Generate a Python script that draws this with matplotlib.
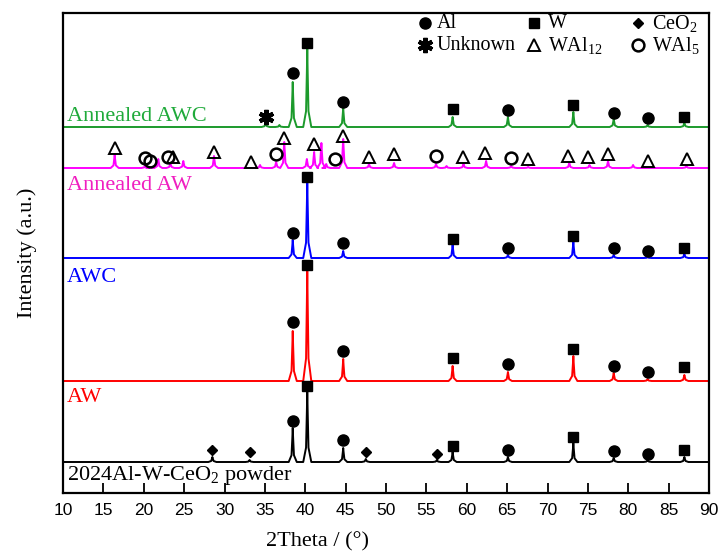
import matplotlib
matplotlib.use("Agg")
import matplotlib.pyplot as plt

# ---------------- data ----------------
# y scale: arbitrary intensity units; each pattern = baseline + peaks
powder_base = 31
powder_pos = [28.5, 33.1, 38.45, 40.25, 44.7, 47.5, 56.3, 58.25, 65.1, 73.2, 78.2, 82.4, 86.95]
powder_h = [5, 2, 34, 72, 14, 3, 2, 10, 5, 19, 4, 2, 5]

aw_base = 112
aw_pos = [38.45, 40.25, 44.7, 58.25, 65.1, 73.2, 78.2, 82.4, 86.95]
aw_h = [50, 113, 22, 15, 9, 25, 8, 2, 6]

awc_base = 235
awc_pos = [38.45, 40.25, 44.7, 58.25, 65.1, 73.2, 78.2, 82.4, 86.95]
awc_h = [18, 77, 7, 13, 3, 16, 3, 1, 4]

aaw_base = 325
aaw_pos = [16.4, 20.2, 20.8, 21.8, 23.3, 24.9, 28.7, 34.4, 36.4, 37.4, 40.2, 41.1,
           42.0, 42.6, 44.7, 47.9, 51.0, 56.2, 57.5, 59.6, 62.4, 65.5, 67.6, 72.7,
           75.2, 77.5, 80.6, 87.2]
aaw_h = [13, 3, 1, 9, 5, 7, 12, 3, 6, 26, 9, 16,
         25, 4, 29, 4, 5, 4, 2, 4, 7, 2, 1, 5,
         3, 7, 3, 2]

aawc_base = 366
aawc_pos = [35.1, 36.8, 38.45, 40.25, 44.7, 58.25, 65.1, 73.2, 78.2, 82.4, 86.95]
aawc_h = [4, 2, 45, 79, 19, 10, 10, 15, 8, 2, 4]

# phase markers: (phase, 2theta, y)
powder_marks = [("CeO2", 28.5, 43), ("CeO2", 33.1, 41), ("Al", 38.45, 72), ("W", 40.25, 107),
                ("Al", 44.7, 53), ("CeO2", 47.5, 41), ("CeO2", 56.3, 39), ("W", 58.25, 47),
                ("Al", 65.1, 43), ("W", 73.2, 56), ("Al", 78.2, 42), ("Al", 82.4, 39),
                ("W", 86.95, 43)]
aw_marks = [("Al", 38.45, 171), ("W", 40.25, 228), ("Al", 44.7, 142), ("W", 58.25, 135),
            ("Al", 65.1, 129), ("W", 73.2, 144), ("Al", 78.2, 127), ("Al", 82.4, 121),
            ("W", 86.95, 126)]
awc_marks = [("Al", 38.45, 260), ("W", 40.25, 316), ("Al", 44.7, 250), ("W", 58.25, 254),
             ("Al", 65.1, 245), ("W", 73.2, 257), ("Al", 78.2, 245), ("Al", 82.4, 242),
             ("W", 86.95, 245)]
aaw_marks = [("WAl12", 16.4, 345), ("WAl5", 20.2, 335), ("WAl5", 20.8, 332), ("WAl5", 23.0, 336),
             ("WAl12", 23.6, 336), ("WAl12", 28.7, 341), ("WAl12", 33.3, 331), ("WAl5", 36.4, 339),
             ("WAl12", 37.4, 355), ("WAl12", 41.1, 349), ("WAl5", 43.7, 334), ("WAl12", 44.7, 357),
             ("WAl12", 47.9, 336), ("WAl12", 51.0, 339), ("WAl5", 56.2, 337), ("WAl12", 59.5, 336),
             ("WAl12", 62.3, 340), ("WAl5", 65.5, 335), ("WAl12", 67.6, 334), ("WAl12", 72.5, 337),
             ("WAl12", 75.0, 336), ("WAl12", 77.5, 339), ("WAl12", 82.4, 332), ("WAl12", 87.3, 334)]
aawc_marks = [("Unknown", 35.1, 376), ("Al", 38.45, 420), ("W", 40.25, 450), ("Al", 44.7, 391),
              ("W", 58.25, 384), ("Al", 65.1, 383), ("W", 73.2, 388), ("Al", 78.2, 380),
              ("Al", 82.4, 375), ("W", 86.95, 376)]

labels = ["2024Al-W-CeO$_2$ powder", "AW", "AWC", "Annealed AW", "Annealed AWC"]
legend_phases = ["Al", "W", "CeO2", "Unknown", "WAl12", "WAl5"]
legend_texts = ["Al", "W", "CeO$_2$", "Unknown", "WAl$_{12}$", "WAl$_5$"]

# ---------------- style ----------------
plt.rcParams["mathtext.fontset"] = "custom"
plt.rcParams["mathtext.rm"] = "Liberation Serif"
plt.rcParams["mathtext.it"] = "Liberation Serif:italic"
plt.rcParams["mathtext.bf"] = "Liberation Serif:bold"
SERIF = "Liberation Serif"

styles = {
    "Al": dict(marker="o", ms=8, mfc="black", mec="black"),
    "W": dict(marker="s", ms=7, mfc="black", mec="black"),
    "CeO2": dict(marker="D", ms=5.5, mfc="black", mec="black"),
    "Unknown": dict(marker=(6, 2, 0), ms=11, mec="black", mew=3.0),
    "WAl12": dict(marker="^", ms=8.5, mfc="none", mec="black", mew=1.4),
    "WAl5": dict(marker="o", ms=8.5, mfc="none", mec="black", mew=1.8),
}


def trace(base, pos, h):
    xs, ys = [10.0], [base]
    for p, hh in sorted(zip(pos, h)):
        xs += [p - 0.5, p - 0.15, p - 0.05, p, p + 0.05, p + 0.15, p + 0.5]
        ys += [base, base + 0.2 * hh, base + 0.7 * hh, base + hh,
               base + 0.7 * hh, base + 0.2 * hh, base]
    xs.append(90.0)
    ys.append(base)
    return xs, ys


fig = plt.figure(figsize=(7.21, 5.59), dpi=100)
ax = fig.add_axes([63 / 721, 66 / 559, 646 / 721, 480 / 559])

patterns = [
    (powder_base, powder_pos, powder_h, "black", "black", powder_marks),
    (aw_base, aw_pos, aw_h, "#FF0000", "#FF0000", aw_marks),
    (awc_base, awc_pos, awc_h, "#0000FF", "#0000FF", awc_marks),
    (aaw_base, aaw_pos, aaw_h, "#FF00FF", "#F01EC0", aaw_marks),
    (aawc_base, aawc_pos, aawc_h, "#1C9A2C", "#1FAA3A", aawc_marks),
]
label_offsets = [-18, -21, -24, -22, 6]

for (base, pos, h, col, tcol, marks), lab, off in zip(patterns, labels, label_offsets):
    xs, ys = trace(base, pos, h)
    ax.plot(xs, ys, color=col, lw=1.4, zorder=2)
    for ph, xp, yp in marks:
        st = styles[ph]
        ax.plot([xp], [yp], linestyle="none", zorder=3, **st)
    ax.text(10.5, base + off, lab, color=tcol, fontsize=16, family=SERIF,
            ha="left", va="baseline")

# legend (manual, two rows x three columns)
lx_m = [0.560, 0.729, 0.890]
lx_t = [0.578, 0.750, 0.911]
ly = [0.979, 0.933]
for i, (ph, txt) in enumerate(zip(legend_phases, legend_texts)):
    r, c = divmod(i, 3)
    ax.plot([lx_m[c]], [ly[r]], linestyle="none", transform=ax.transAxes,
            clip_on=False, **styles[ph])
    ax.text(lx_t[c], ly[r], txt, transform=ax.transAxes, fontsize=14.5,
            family=SERIF, ha="left", va="center")

ax.set_xlim(10, 90)
ax.set_ylim(0, 480)
ax.set_xticks(range(10, 91, 5))
ax.set_yticks([])
ax.tick_params(axis="x", direction="in", length=7, width=1.3, pad=7, labelsize=12.5)
for t in ax.get_xticklabels():
    t.set_family("Liberation Sans")
for s in ax.spines.values():
    s.set_linewidth(1.6)

ax.set_xlabel("2Theta / (°)", fontsize=16, family=SERIF, va="center")
ax.xaxis.set_label_coords((318 - 63) / 646, (493 - 542) / 480)
ax.set_ylabel("Intensity (a.u.)", fontsize=16, family=SERIF, va="center")
ax.yaxis.set_label_coords((27 - 63) / 646, 0.5)

fig.savefig("out.png", dpi=100)
